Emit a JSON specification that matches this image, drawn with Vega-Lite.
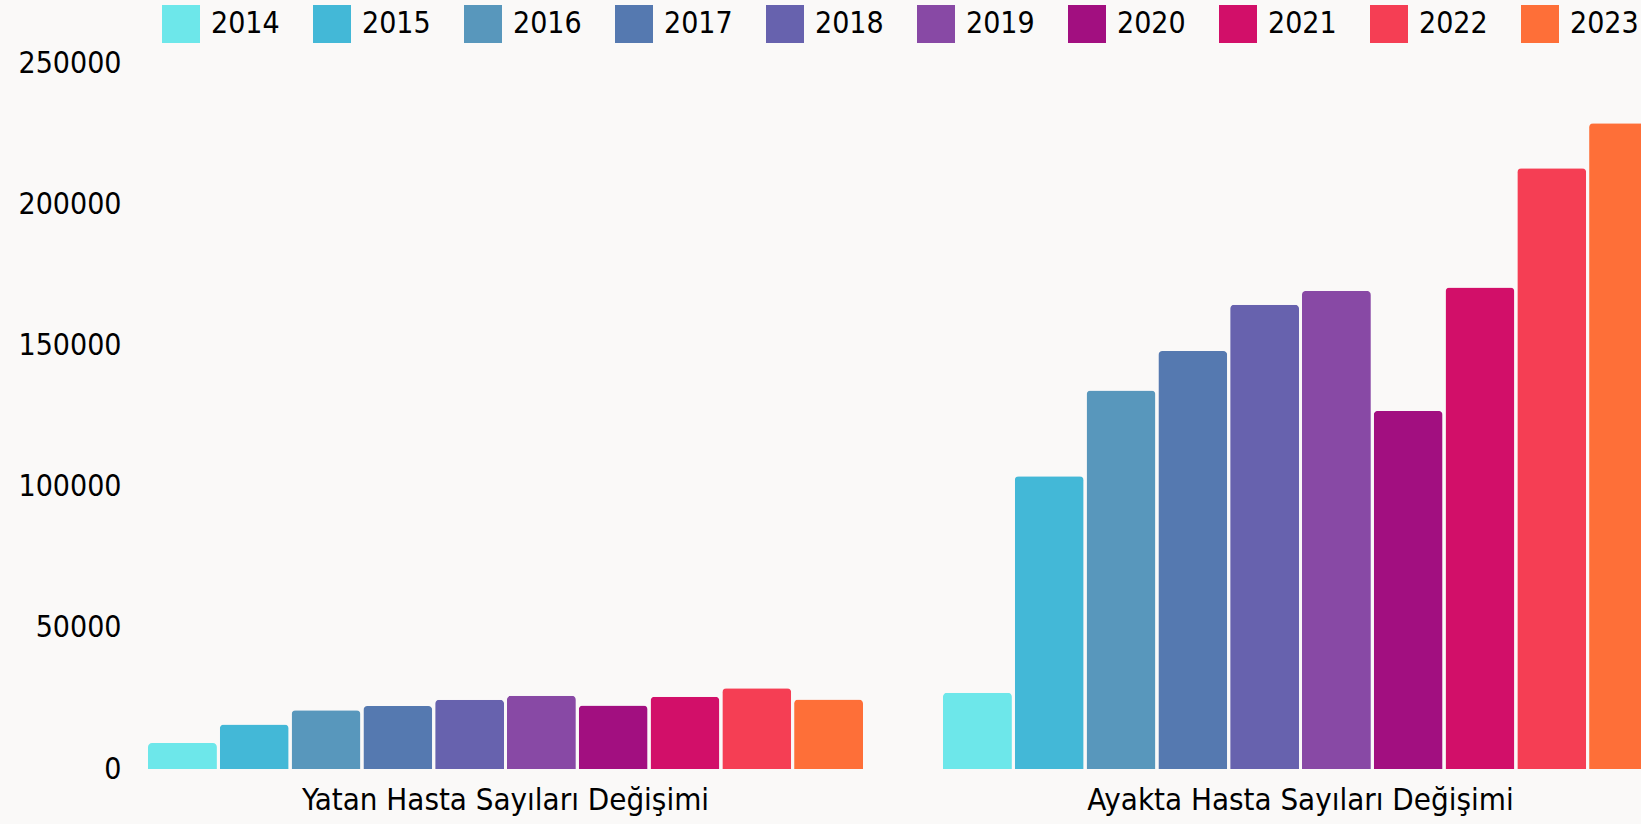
{
  "$schema": "https://vega.github.io/schema/vega-lite/v6.json",
  "width": 1511,
  "height": 706,
  "autosize": {"type": "none"},
  "padding": {"left": 130, "top": 63, "right": 0, "bottom": 55},
  "background": "#faf9f8",
  "config": {"view": {"stroke": null}, "font": "DejaVu Sans Condensed"},
  "data": {
    "values": [
      {"group": "Yatan Hasta Sayıları Değişimi", "year": "2014", "value": 9200},
      {"group": "Yatan Hasta Sayıları Değişimi", "year": "2015", "value": 15800},
      {"group": "Yatan Hasta Sayıları Değişimi", "year": "2016", "value": 20800},
      {"group": "Yatan Hasta Sayıları Değişimi", "year": "2017", "value": 22300},
      {"group": "Yatan Hasta Sayıları Değişimi", "year": "2018", "value": 24500},
      {"group": "Yatan Hasta Sayıları Değişimi", "year": "2019", "value": 25900},
      {"group": "Yatan Hasta Sayıları Değişimi", "year": "2020", "value": 22500},
      {"group": "Yatan Hasta Sayıları Değişimi", "year": "2021", "value": 25600},
      {"group": "Yatan Hasta Sayıları Değişimi", "year": "2022", "value": 28600},
      {"group": "Yatan Hasta Sayıları Değişimi", "year": "2023", "value": 24600},
      {"group": "Ayakta Hasta Sayıları Değişimi", "year": "2014", "value": 27000},
      {"group": "Ayakta Hasta Sayıları Değişimi", "year": "2015", "value": 103700},
      {"group": "Ayakta Hasta Sayıları Değişimi", "year": "2016", "value": 134000},
      {"group": "Ayakta Hasta Sayıları Değişimi", "year": "2017", "value": 148000},
      {"group": "Ayakta Hasta Sayıları Değişimi", "year": "2018", "value": 164400},
      {"group": "Ayakta Hasta Sayıları Değişimi", "year": "2019", "value": 169300},
      {"group": "Ayakta Hasta Sayıları Değişimi", "year": "2020", "value": 126800},
      {"group": "Ayakta Hasta Sayıları Değişimi", "year": "2021", "value": 170500},
      {"group": "Ayakta Hasta Sayıları Değişimi", "year": "2022", "value": 212700},
      {"group": "Ayakta Hasta Sayıları Değişimi", "year": "2023", "value": 228700}
    ]
  },
  "mark": {"type": "bar", "cornerRadiusTopLeft": 4, "cornerRadiusTopRight": 4},
  "encoding": {
    "x": {
      "field": "group",
      "type": "nominal",
      "sort": ["Yatan Hasta Sayıları Değişimi", "Ayakta Hasta Sayıları Değişimi"],
      "scale": {"range": [18, 1528], "paddingInner": 0.1006, "paddingOuter": 0},
      "axis": {"title": null, "labelAngle": 0, "ticks": false, "domain": false, "labelFontSize": 31, "labelPadding": 16, "labelColor": "#000000", "labelLimit": 0}
    },
    "xOffset": {
      "field": "year",
      "type": "nominal",
      "scale": {"paddingInner": 0.04, "paddingOuter": 0}
    },
    "y": {
      "field": "value",
      "type": "quantitative",
      "scale": {"domain": [0, 250000], "nice": false},
      "axis": {"title": null, "values": [0, 50000, 100000, 150000, 200000, 250000], "format": "d", "grid": false, "ticks": false, "domain": false, "labelFontSize": 30, "labelPadding": 9, "labelColor": "#000000"}
    },
    "color": {
      "field": "year",
      "type": "nominal",
      "scale": {
        "domain": ["2014", "2015", "2016", "2017", "2018", "2019", "2020", "2021", "2022", "2023"],
        "range": ["#6DE7EA", "#43B8D7", "#5897BC", "#5579B0", "#6762AE", "#8849A5", "#A20F80", "#D20F69", "#F53E54", "#FE6F38"]
      },
      "legend": {
        "title": null,
        "orient": "none",
        "legendX": 32,
        "legendY": -58,
        "direction": "horizontal",
        "columns": 10,
        "symbolType": "square",
        "symbolSize": 1444,
        "symbolStrokeWidth": 0,
        "symbolOpacity": 1,
        "labelFontSize": 30,
        "labelOffset": 11,
        "labelColor": "#000000",
        "columnPadding": 33
      }
    }
  }
}
